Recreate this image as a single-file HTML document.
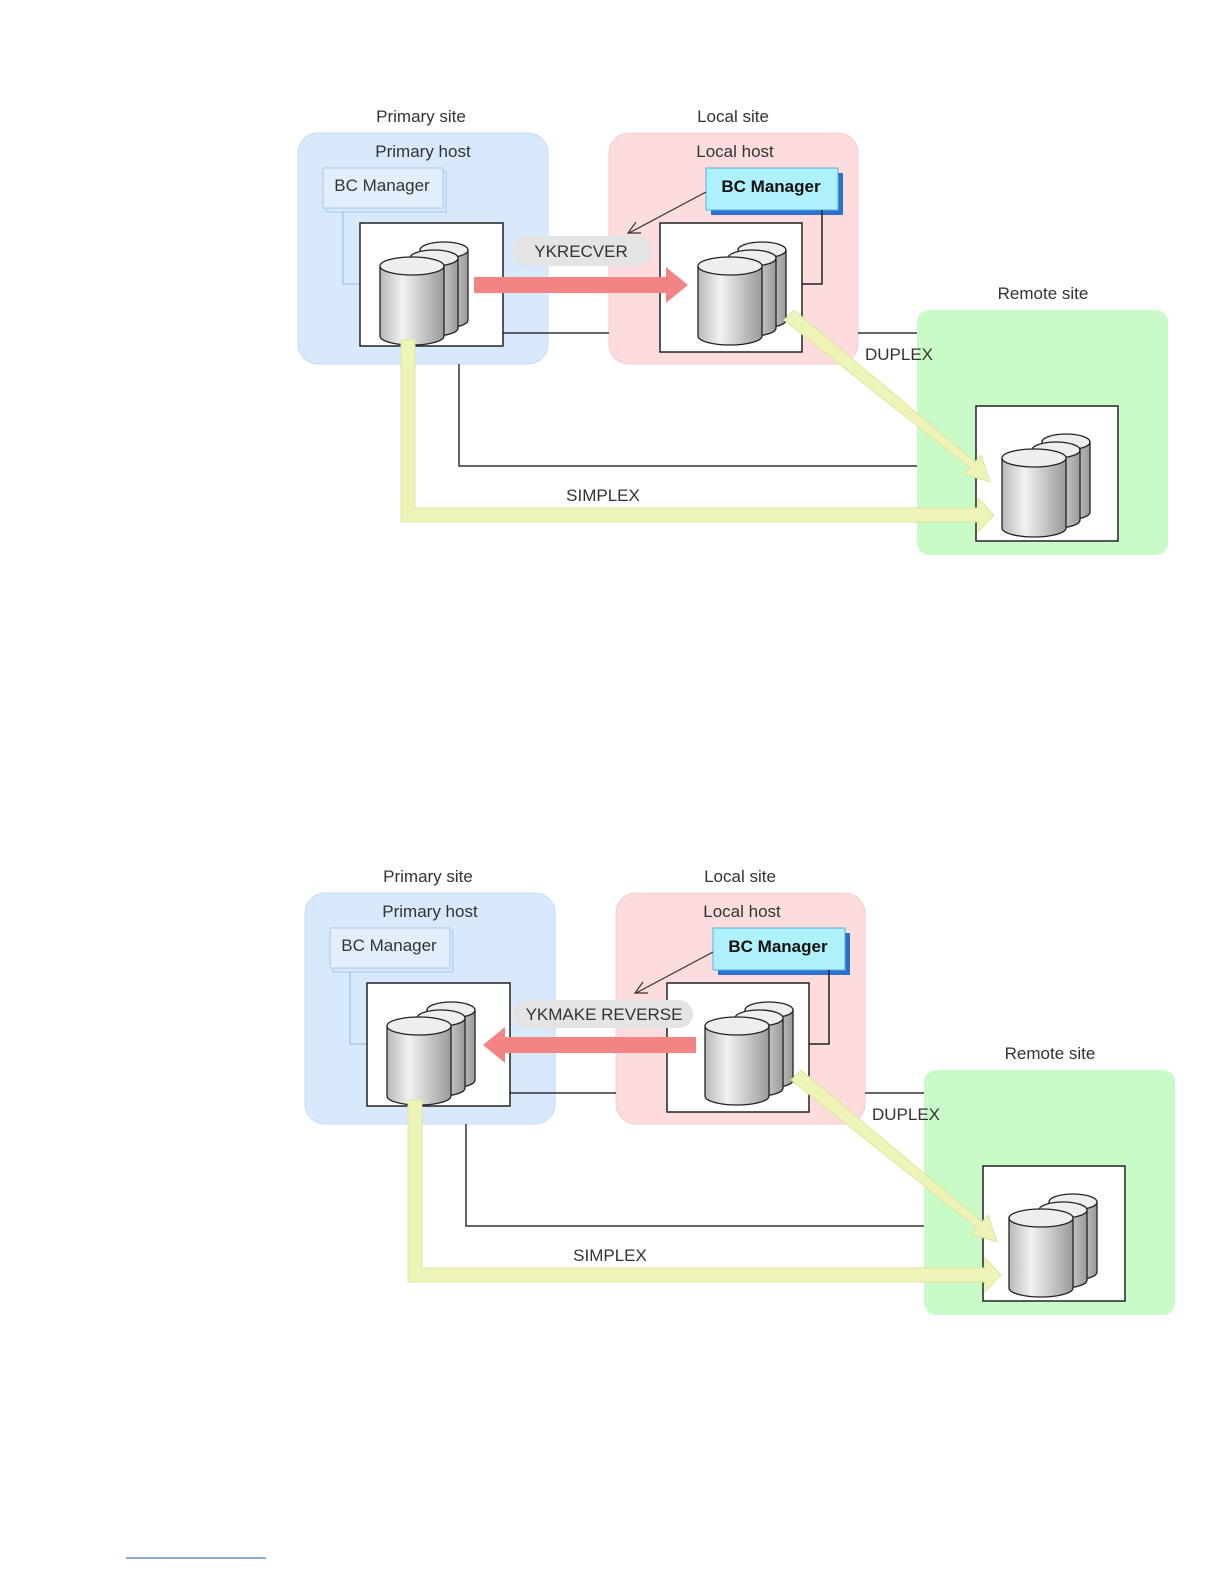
<!DOCTYPE html>
<html><head><meta charset="utf-8"><style>
html,body{margin:0;padding:0;background:#fff;overflow:hidden;width:1224px;height:1584px;}
svg{display:block;}
text{font-family:"Liberation Sans",sans-serif;font-size:17px;fill:#333;}
</style></head><body>
<svg width="1224" height="1584" viewBox="0 0 1224 1584" xmlns="http://www.w3.org/2000/svg">
<defs>
<linearGradient id="cyl" x1="0" x2="1" y1="0" y2="0">
<stop offset="0" stop-color="#b8b8b8"/><stop offset="0.35" stop-color="#f2f2f2"/><stop offset="1" stop-color="#9a9a9a"/>
</linearGradient>
<g id="stack">
<path d="M40 10 v70 a24 8 0 0 0 48 0 v-70" fill="url(#cyl)" stroke="#222" stroke-width="1.3"/>
<ellipse cx="64" cy="10" rx="24" ry="8" fill="#eee" stroke="#222" stroke-width="1.3"/>
<path d="M30 18 v70 a24 8 0 0 0 48 0 v-70" fill="url(#cyl)" stroke="#222" stroke-width="1.3"/>
<ellipse cx="54" cy="18" rx="24" ry="8" fill="#eee" stroke="#222" stroke-width="1.3"/>
<path d="M0 26 v70 a32 9 0 0 0 64 0 v-70" fill="url(#cyl)" stroke="#222" stroke-width="1.3"/>
<ellipse cx="32" cy="26" rx="32" ry="9" fill="#eee" stroke="#222" stroke-width="1.3"/>
</g>
</defs>

<!-- Diagram 1 -->
<g>
<rect x="298" y="133" width="250" height="231" rx="20" fill="#d8e9fc" stroke="#c4dcf6"/>
<rect x="609" y="133" width="249" height="231" rx="20" fill="#fcdcdc" stroke="#f6cccc"/>
<rect x="917" y="310" width="251" height="245" rx="12" fill="#c9fbc9"/>
<text x="421" y="122" text-anchor="middle">Primary site</text>
<text x="423" y="157" text-anchor="middle">Primary host</text>
<text x="733" y="122" text-anchor="middle">Local site</text>
<text x="735" y="157" text-anchor="middle">Local host</text>
<text x="1043" y="299" text-anchor="middle">Remote site</text>
<rect x="326" y="171" width="120" height="41" fill="none" stroke="#a8c8f0"/>
<rect x="323" y="168" width="120" height="40" fill="#e2eefc" stroke="#a8c8f0"/>
<text x="382" y="191" text-anchor="middle">BC Manager</text>
<polyline points="343,212 343,284 360,284" fill="none" stroke="#a8c8f0" stroke-width="1.5"/>
<polygon points="711,173 843,173 843,215 711,215" fill="#2a70c8"/>
<rect x="706" y="168" width="132" height="42" fill="#aef0fc" stroke="#5ab0e0"/>
<text x="771" y="192" text-anchor="middle" font-weight="bold" style="fill:#111">BC Manager</text>
<polyline points="822,210 822,284 802,284" fill="none" stroke="#222" stroke-width="1.5"/>
<line x1="503" y1="333" x2="609" y2="333" stroke="#333" stroke-width="1.5"/>
<line x1="858" y1="333" x2="917" y2="333" stroke="#333" stroke-width="1.5"/>
<polyline points="459,364 459,466 917,466" fill="none" stroke="#333" stroke-width="1.5"/>
<rect x="360" y="223" width="143" height="123" fill="#fff" stroke="#222" stroke-width="1.5"/>
<rect x="660" y="223" width="142" height="129" fill="#fff" stroke="#222" stroke-width="1.5"/>
<rect x="976" y="406" width="142" height="135" fill="#fff" stroke="#222" stroke-width="1.5"/>
<use href="#stack" x="380" y="240"/>
<use href="#stack" x="698" y="240"/>
<use href="#stack" x="1002" y="432"/>
<rect x="512" y="236" width="140" height="30" rx="15" fill="#e4e4e4"/>
<text x="581" y="257" text-anchor="middle">YKRECVER</text>
<line x1="706" y1="192" x2="629" y2="233" stroke="#333" stroke-width="1.2"/>
<polyline points="636,222 628,233 641,233" fill="none" stroke="#333" stroke-width="1.2"/>
<polygon points="474,277 666,277 666,267 688,285 666,303 666,293 474,293" fill="#f28484"/>
<polygon points="401,340 415,340 415,508 978,508 978,498 994,515 978,532 978,522 401,522" fill="#eef3b8" stroke="#dfe59c"/>
<polygon points="784,320 794,310 975,462 981,455 990,482 964,474 970,468" fill="#eef3b8" stroke="#dfe59c"/>
<text x="899" y="360" text-anchor="middle">DUPLEX</text>
<text x="603" y="501" text-anchor="middle">SIMPLEX</text>
</g>

<!-- Diagram 2 -->
<g transform="translate(7,760)">
<rect x="298" y="133" width="250" height="231" rx="20" fill="#d8e9fc" stroke="#c4dcf6"/>
<rect x="609" y="133" width="249" height="231" rx="20" fill="#fcdcdc" stroke="#f6cccc"/>
<rect x="917" y="310" width="251" height="245" rx="12" fill="#c9fbc9"/>
<text x="421" y="122" text-anchor="middle">Primary site</text>
<text x="423" y="157" text-anchor="middle">Primary host</text>
<text x="733" y="122" text-anchor="middle">Local site</text>
<text x="735" y="157" text-anchor="middle">Local host</text>
<text x="1043" y="299" text-anchor="middle">Remote site</text>
<rect x="326" y="171" width="120" height="41" fill="none" stroke="#a8c8f0"/>
<rect x="323" y="168" width="120" height="40" fill="#e2eefc" stroke="#a8c8f0"/>
<text x="382" y="191" text-anchor="middle">BC Manager</text>
<polyline points="343,212 343,284 360,284" fill="none" stroke="#a8c8f0" stroke-width="1.5"/>
<polygon points="711,173 843,173 843,215 711,215" fill="#2a70c8"/>
<rect x="706" y="168" width="132" height="42" fill="#aef0fc" stroke="#5ab0e0"/>
<text x="771" y="192" text-anchor="middle" font-weight="bold" style="fill:#111">BC Manager</text>
<polyline points="822,210 822,284 802,284" fill="none" stroke="#222" stroke-width="1.5"/>
<line x1="503" y1="333" x2="609" y2="333" stroke="#333" stroke-width="1.5"/>
<line x1="858" y1="333" x2="917" y2="333" stroke="#333" stroke-width="1.5"/>
<polyline points="459,364 459,466 917,466" fill="none" stroke="#333" stroke-width="1.5"/>
<rect x="360" y="223" width="143" height="123" fill="#fff" stroke="#222" stroke-width="1.5"/>
<rect x="660" y="223" width="142" height="129" fill="#fff" stroke="#222" stroke-width="1.5"/>
<rect x="976" y="406" width="142" height="135" fill="#fff" stroke="#222" stroke-width="1.5"/>
<use href="#stack" x="380" y="240"/>
<use href="#stack" x="698" y="240"/>
<use href="#stack" x="1002" y="432"/>
<rect x="506" y="240" width="180" height="28" rx="14" fill="#e4e4e4"/>
<text x="597" y="260" text-anchor="middle">YKMAKE REVERSE</text>
<line x1="706" y1="192" x2="629" y2="233" stroke="#333" stroke-width="1.2"/>
<polyline points="636,222 628,233 641,233" fill="none" stroke="#333" stroke-width="1.2"/>
<polygon points="689,277 498,277 498,267 476,285 498,303 498,293 689,293" fill="#f28484"/>
<polygon points="401,340 415,340 415,508 978,508 978,498 994,515 978,532 978,522 401,522" fill="#eef3b8" stroke="#dfe59c"/>
<polygon points="784,320 794,310 975,462 981,455 990,482 964,474 970,468" fill="#eef3b8" stroke="#dfe59c"/>
<text x="899" y="360" text-anchor="middle">DUPLEX</text>
<text x="603" y="501" text-anchor="middle">SIMPLEX</text>
</g>

<line x1="126" y1="1558" x2="266" y2="1558" stroke="#4a70c0" stroke-width="1.2"/>
</svg>
</body></html>
